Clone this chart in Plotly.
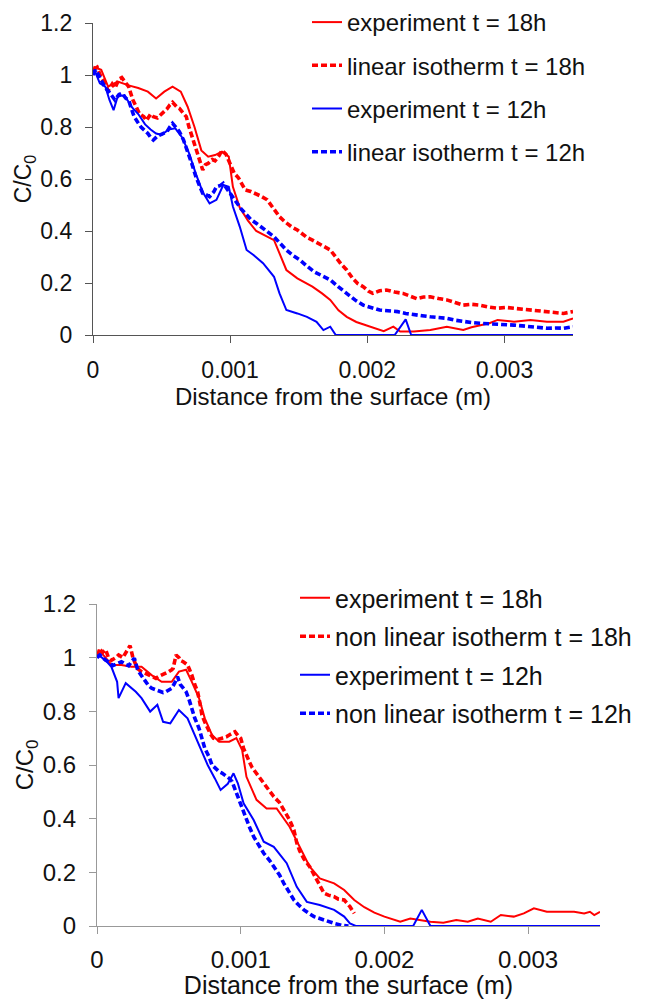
import plotly.graph_objects as go

# ---------------- data: top chart (linear isotherm) ----------------
top_exp18_x = [0, 0.00001, 0.00006, 0.00011, 0.00018, 0.00026, 0.00033, 0.0004, 0.00046, 0.00052,
               0.00058, 0.00064, 0.00069, 0.00074, 0.00079, 0.00084, 0.00089, 0.00094, 0.00099, 0.00102,
               0.00107, 0.00113, 0.00119, 0.00126, 0.00132, 0.00136, 0.00141, 0.00149, 0.0016, 0.00167,
               0.00173, 0.00179, 0.00185, 0.00192, 0.002, 0.00206, 0.00212, 0.00219, 0.00224, 0.00234,
               0.00246, 0.00258, 0.0027, 0.00276, 0.00282, 0.00289, 0.00295, 0.00307, 0.00319, 0.00331,
               0.00343, 0.0035]
top_exp18_y = [1.00, 1.03, 1.02, 0.955, 0.975, 0.96, 0.95, 0.936, 0.91, 0.936,
               0.955, 0.936, 0.878, 0.80, 0.71, 0.686, 0.692, 0.705, 0.686, 0.57,
               0.49, 0.44, 0.40, 0.38, 0.365, 0.314, 0.25, 0.218, 0.186, 0.16,
               0.135, 0.095, 0.07, 0.05, 0.035, 0.025, 0.015, 0.032, 0.013, 0.013,
               0.019, 0.032, 0.019, 0.03, 0.038, 0.045, 0.058, 0.051, 0.058, 0.051,
               0.051, 0.064]

top_lin18_x = [0, 0.00003, 0.00006, 0.00009, 0.00011, 0.00014, 0.00016, 0.00019, 0.00021, 0.00024,
               0.00026, 0.00029, 0.00032, 0.00034, 0.00037, 0.00039, 0.00042, 0.00044, 0.00047, 0.00049,
               0.00052, 0.00054, 0.00056, 0.00058, 0.00061, 0.00063, 0.00066, 0.00068, 0.0007, 0.00072,
               0.00075, 0.00077, 0.0008, 0.00082, 0.00084, 0.00087, 0.00089, 0.00092, 0.00094, 0.00097,
               0.00099, 0.00101, 0.00103, 0.00106, 0.00108, 0.00111, 0.00115, 0.00118, 0.00122, 0.00127,
               0.00131, 0.00136, 0.0014, 0.00145, 0.00149, 0.00152, 0.00156, 0.0016, 0.00165, 0.00169,
               0.00173, 0.00177, 0.00181, 0.00185, 0.00189, 0.00193, 0.00197, 0.00201, 0.00204, 0.00209,
               0.00214, 0.0022, 0.00226, 0.00231, 0.00236, 0.00241, 0.00246, 0.00252, 0.00258, 0.00264,
               0.0027, 0.00276, 0.00282, 0.00288, 0.00295, 0.00301, 0.00307, 0.00313, 0.00319, 0.00325,
               0.00331, 0.00337, 0.00343, 0.0035]
top_lin18_y = [1.02, 1.03, 0.99, 0.965, 0.94, 0.965, 0.95, 0.985, 0.99, 0.97,
               0.955, 0.905, 0.875, 0.85, 0.84, 0.825, 0.85, 0.84, 0.835, 0.845,
               0.86, 0.87, 0.885, 0.895, 0.878, 0.872, 0.852, 0.84, 0.80, 0.765,
               0.72, 0.686, 0.635, 0.655, 0.66, 0.675, 0.67, 0.69, 0.71, 0.695,
               0.673, 0.65, 0.622, 0.605, 0.585, 0.558, 0.552, 0.545, 0.535, 0.52,
               0.49, 0.455, 0.435, 0.415, 0.404, 0.392, 0.375, 0.365, 0.35, 0.338,
               0.327, 0.30, 0.272, 0.25, 0.22, 0.198, 0.186, 0.168, 0.16, 0.17,
               0.173, 0.165, 0.16, 0.15, 0.14, 0.146, 0.147, 0.14, 0.135, 0.125,
               0.115, 0.118, 0.115, 0.108, 0.103, 0.106, 0.103, 0.1, 0.096, 0.094,
               0.09, 0.087, 0.083, 0.09]

top_exp12_x = [0, 0.00001, 0.00005, 0.00009, 0.00012, 0.00015, 0.00018, 0.00023, 0.00028, 0.00033,
               0.00038, 0.00042, 0.00046, 0.0005, 0.00055, 0.0006, 0.00065, 0.0007, 0.00075, 0.0008,
               0.00085, 0.0009, 0.00095, 0.00099, 0.00102, 0.00107, 0.00112, 0.00117, 0.00124, 0.00132,
               0.00136, 0.00141, 0.00149, 0.00156, 0.00163, 0.00168, 0.00173, 0.00177, 0.0022, 0.00228,
               0.00232, 0.0035]
top_exp12_y = [1.00, 1.02, 0.968, 0.955, 0.904, 0.865, 0.917, 0.923, 0.878, 0.85,
               0.81, 0.79, 0.775, 0.77, 0.79, 0.795, 0.76, 0.70, 0.62, 0.55,
               0.506, 0.52, 0.577, 0.57, 0.494, 0.417, 0.327, 0.308, 0.276, 0.224,
               0.16, 0.096, 0.083, 0.07, 0.051, 0.019, 0.032, 0.0, 0.0, 0.06,
               0.0, 0.0]

top_lin12_x = [0, 0.00002, 0.00004, 0.00006, 0.00009, 0.00011, 0.00014, 0.00016, 0.00019, 0.00021,
               0.00024, 0.00026, 0.00028, 0.0003, 0.00033, 0.00035, 0.00038, 0.0004, 0.00042, 0.00044,
               0.00047, 0.00049, 0.00052, 0.00054, 0.00056, 0.00058, 0.00061, 0.00063, 0.00066, 0.00068,
               0.0007, 0.00072, 0.00075, 0.00078, 0.0008, 0.00083, 0.00085, 0.00088, 0.0009, 0.00093,
               0.00095, 0.00098, 0.001, 0.00103, 0.00105, 0.00108, 0.00111, 0.00115, 0.00119, 0.00122,
               0.00127, 0.00132, 0.00136, 0.00141, 0.00146, 0.00151, 0.00156, 0.00161, 0.00167, 0.00173,
               0.00179, 0.00185, 0.00191, 0.00197, 0.00203, 0.00209, 0.00215, 0.00222, 0.00228, 0.00234,
               0.0024, 0.00246, 0.00252, 0.00258, 0.00264, 0.0027, 0.00276, 0.00282, 0.00288, 0.00295,
               0.00301, 0.00307, 0.00313, 0.00319, 0.00325, 0.00331, 0.00337, 0.00343, 0.0035]
top_lin12_y = [1.0, 1.02, 1.0, 0.98, 0.95, 0.94, 0.92, 0.904, 0.925, 0.93,
               0.91, 0.904, 0.87, 0.84, 0.815, 0.80, 0.785, 0.775, 0.76, 0.75,
               0.765, 0.77, 0.775, 0.782, 0.80, 0.814, 0.795, 0.782, 0.75, 0.724,
               0.69, 0.66, 0.609, 0.57, 0.545, 0.538, 0.532, 0.55, 0.57, 0.575,
               0.583, 0.56, 0.545, 0.525, 0.506, 0.485, 0.468, 0.445, 0.43, 0.417,
               0.398, 0.378, 0.355, 0.327, 0.305, 0.288, 0.265, 0.244, 0.228, 0.212,
               0.185, 0.16, 0.135, 0.115, 0.105, 0.096, 0.093, 0.09, 0.083, 0.077,
               0.074, 0.07, 0.067, 0.064, 0.057, 0.051, 0.048, 0.045, 0.044, 0.042,
               0.04, 0.038, 0.035, 0.032, 0.029, 0.026, 0.027, 0.026, 0.032]

# ---------------- data: bottom chart (non linear isotherm) ----------------
bot_exp18_x = [0, 0.00001, 0.00006, 0.0001, 0.00017, 0.00024, 0.00031, 0.00038, 0.00045, 0.00052,
               0.00057, 0.00062, 0.00066, 0.00071, 0.00075, 0.0008, 0.00085, 0.00092, 0.00097, 0.00101,
               0.00104, 0.00111, 0.00118, 0.00125, 0.00134, 0.00141, 0.00148, 0.00155, 0.00165, 0.00172,
               0.00179, 0.00186, 0.00193, 0.002, 0.00211, 0.00218, 0.00225, 0.00232, 0.00241, 0.0025,
               0.00258, 0.00265, 0.00274, 0.00281, 0.0029, 0.00297, 0.00304, 0.00313, 0.00323, 0.00332,
               0.00339, 0.00343, 0.00346, 0.0035]
bot_exp18_y = [1.0, 1.03, 1.0, 0.973, 0.973, 0.966, 0.966, 0.935, 0.91, 0.91,
               0.948, 0.955, 0.91, 0.849, 0.774, 0.712, 0.687, 0.687, 0.70, 0.656,
               0.556, 0.47, 0.438, 0.438, 0.37, 0.295, 0.221, 0.177, 0.159, 0.134,
               0.097, 0.07, 0.05, 0.035, 0.016, 0.028, 0.022, 0.016, 0.012, 0.022,
               0.016, 0.028, 0.016, 0.041, 0.035, 0.047, 0.066, 0.053, 0.053, 0.053,
               0.047, 0.053, 0.041, 0.053]

bot_nl18_x = [0, 0.00002, 0.00004, 0.00006, 0.00008, 0.0001, 0.00013, 0.00015, 0.00018, 0.0002,
              0.00023, 0.00025, 0.00028, 0.00031, 0.00034, 0.00036, 0.00039, 0.00041, 0.00043, 0.00045,
              0.00048, 0.0005, 0.00052, 0.00053, 0.00055, 0.00057, 0.00058, 0.0006, 0.00063, 0.00065,
              0.00066, 0.00068, 0.0007, 0.00072, 0.00073, 0.00075, 0.00077, 0.00079, 0.00081, 0.00084,
              0.00087, 0.0009, 0.00092, 0.00094, 0.00096, 0.00098, 0.001, 0.00102, 0.00104, 0.00106,
              0.00108, 0.0011, 0.00113, 0.00116, 0.0012, 0.00123, 0.00127, 0.0013, 0.00134, 0.00137,
              0.00139, 0.00141, 0.00144, 0.00148, 0.00151, 0.00153, 0.00156, 0.00158, 0.00161, 0.00165,
              0.00168, 0.00172, 0.00174, 0.00176, 0.00179]
bot_nl18_y = [1.0, 1.03, 1.02, 1.03, 1.0, 0.99, 1.0, 1.01, 1.0, 1.02,
              1.045, 1.0, 0.96, 0.948, 0.94, 0.935, 0.925, 0.923, 0.93, 0.935,
              0.94, 0.948, 0.955, 0.96, 1.01, 1.0, 0.99, 0.985, 0.973, 0.95,
              0.935, 0.9, 0.873, 0.82, 0.786, 0.76, 0.737, 0.715, 0.70, 0.695,
              0.70, 0.705, 0.712, 0.72, 0.724, 0.71, 0.70, 0.662, 0.635, 0.612,
              0.59, 0.575, 0.555, 0.532, 0.505, 0.482, 0.46, 0.432, 0.395, 0.358,
              0.31, 0.28, 0.25, 0.221, 0.19, 0.171, 0.14, 0.122, 0.115, 0.109,
              0.1, 0.097, 0.085, 0.072, 0.047]

bot_exp12_x = [0, 0.00001, 0.00006, 0.0001, 0.00014, 0.00015, 0.0002, 0.00027, 0.00031, 0.00037,
               0.00042, 0.00046, 0.00051, 0.00057, 0.00063, 0.00067, 0.00072, 0.00077, 0.00082, 0.00086,
               0.00091, 0.00095, 0.00098, 0.00102, 0.00109, 0.00116, 0.00123, 0.00132, 0.00139, 0.00146,
               0.00155, 0.00165, 0.00172, 0.00176, 0.0018, 0.0022, 0.00226, 0.00232, 0.0035]
bot_exp12_y = [1.0, 1.01, 0.99, 0.966, 0.91, 0.849, 0.905, 0.873, 0.849, 0.799,
               0.824, 0.761, 0.755, 0.805, 0.774, 0.724, 0.662, 0.60, 0.55, 0.507,
               0.53, 0.569, 0.532, 0.457, 0.395, 0.314, 0.295, 0.234, 0.146, 0.09,
               0.078, 0.06, 0.035, 0.01, 0.0, 0.0, 0.06, 0.0, 0.0]

bot_nl12_x = [0, 0.00002, 0.00004, 0.00006, 0.00008, 0.00011, 0.00013, 0.00015, 0.00017, 0.0002,
              0.00022, 0.00024, 0.00026, 0.00028, 0.00029, 0.00032, 0.00034, 0.00036, 0.00038, 0.00041,
              0.00043, 0.00046, 0.00048, 0.0005, 0.00052, 0.00054, 0.00056, 0.00058, 0.0006, 0.00062,
              0.00064, 0.00066, 0.00068, 0.00071, 0.00073, 0.00075, 0.00078, 0.0008, 0.00082, 0.00085,
              0.00087, 0.00089, 0.00092, 0.00094, 0.00097, 0.00102, 0.00106, 0.00109, 0.00113, 0.00116,
              0.0012, 0.00123, 0.00127, 0.0013, 0.00134, 0.00137, 0.0014, 0.00144, 0.00148, 0.00151,
              0.00155, 0.00158, 0.00162, 0.00165, 0.0017, 0.00175]
bot_nl12_y = [1.0, 1.01, 1.0, 0.99, 0.985, 0.97, 0.975, 0.98, 0.985, 0.975,
              0.97, 0.985, 0.998, 0.96, 0.948, 0.925, 0.91, 0.895, 0.886, 0.88,
              0.873, 0.87, 0.873, 0.88, 0.886, 0.905, 0.929, 0.90, 0.885, 0.873,
              0.845, 0.81, 0.775, 0.737, 0.70, 0.662, 0.63, 0.60, 0.59, 0.575,
              0.57, 0.563, 0.55, 0.538, 0.495, 0.42, 0.37, 0.333, 0.30, 0.271,
              0.245, 0.221, 0.19, 0.159, 0.125, 0.097, 0.08, 0.06, 0.045, 0.035,
              0.028, 0.022, 0.015, 0.01, 0.003, 0.0]

x_ticks = [0, 0.001, 0.002, 0.003]
x_tick_labels = ["0", "0.001", "0.002", "0.003"]
y_ticks = [0, 0.2, 0.4, 0.6, 0.8, 1.0, 1.2]
y_tick_labels = ["0", "0.2", "0.4", "0.6", "0.8", "1", "1.2"]

RED = "#ff0000"
BLUE = "#0000ff"
FONT = "Liberation Sans, Arial, sans-serif"
W, H = 659, 999

fig = go.Figure()

def add(x, y, name, color, dashed, xa, ya, legend, group):
    line = dict(color=color, width=3.6 if dashed else 2.0)
    if dashed:
        line["dash"] = "6px,3px"
    fig.add_trace(go.Scatter(x=x, y=y, mode="lines", name=name, line=line,
                             xaxis=xa, yaxis=ya, legend=legend, legendgroup=group))

add(top_exp18_x, top_exp18_y, "experiment t = 18h", RED, False, "x", "y", "legend", "a1")
add(top_lin18_x, top_lin18_y, "linear isotherm t = 18h", RED, True, "x", "y", "legend", "a2")
add(top_exp12_x, top_exp12_y, "experiment t = 12h", BLUE, False, "x", "y", "legend", "a3")
add(top_lin12_x, top_lin12_y, "linear isotherm t = 12h", BLUE, True, "x", "y", "legend", "a4")

add(bot_exp18_x, bot_exp18_y, "experiment t = 18h", RED, False, "x2", "y2", "legend2", "b1")
add(bot_nl18_x, bot_nl18_y, "non linear isotherm t = 18h", RED, True, "x2", "y2", "legend2", "b2")
add(bot_exp12_x, bot_exp12_y, "experiment t = 12h", BLUE, False, "x2", "y2", "legend2", "b3")
add(bot_nl12_x, bot_nl12_y, "non linear isotherm t = 12h", BLUE, True, "x2", "y2", "legend2", "b4")

def px_x(p):
    return p / W

def px_y(p):
    return 1 - p / H

def xaxis(domain, anchor, fs, tfs, color, lstand):
    return dict(domain=domain, anchor=anchor, range=[0, 0.0035], tickvals=x_ticks,
                ticktext=x_tick_labels, ticks="outside", ticklen=7, tickcolor=color,
                showline=True, linecolor=color, linewidth=1.3, showgrid=False, zeroline=False,
                automargin=False,
                tickfont=dict(size=fs, color="#111"), ticklabelstandoff=lstand,
                title=dict(text="Distance from the surface (m)", font=dict(size=tfs, color="#111"),
                           standoff=0))

def yaxis(domain, anchor, fs, color):
    return dict(domain=domain, anchor=anchor, range=[0, 1.2], tickvals=y_ticks,
                ticktext=y_tick_labels, ticks="outside", ticklen=7, tickcolor=color,
                showline=True, linecolor=color, linewidth=1.3, showgrid=False, zeroline=False,
                automargin=False, ticklabelstandoff=8,
                tickfont=dict(size=fs, color="#111"),
                title=dict(text="C/C<sub>0</sub>", font=dict(size=fs, color="#111"), standoff=2))

fig.update_layout(
    width=W, height=H,
    margin=dict(l=0, r=0, t=0, b=0, autoexpand=False),
    paper_bgcolor="white", plot_bgcolor="white",
    font=dict(family=FONT, color="#111"),
    xaxis=xaxis([px_x(93), px_x(573)], "y", 23, 24, "#555", 7),
    yaxis=yaxis([px_y(335), px_y(23)], "x", 23, "#555"),
    xaxis2=xaxis([px_x(97), px_x(600)], "y2", 24, 25, "#999", 5),
    yaxis2=yaxis([px_y(926), px_y(604)], "x2", 24, "#999"),
    legend=dict(x=px_x(307), y=1.0, xanchor="left", yanchor="top",
                font=dict(size=24, color="#111"), bgcolor="rgba(0,0,0,0)",
                tracegroupgap=9, traceorder="grouped"),
    legend2=dict(x=px_x(295), y=px_y(575), xanchor="left", yanchor="top",
                 font=dict(size=25, color="#111"), bgcolor="rgba(0,0,0,0)",
                 tracegroupgap=3, traceorder="grouped"),
    showlegend=True,
)

fig.write_html("out.html")
